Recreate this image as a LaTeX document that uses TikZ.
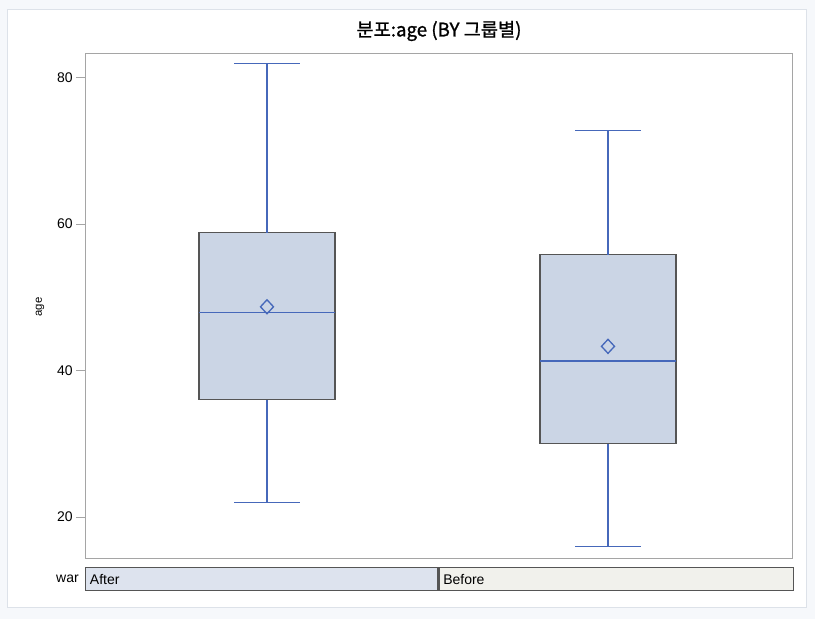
\documentclass[tikz,border=0pt]{standalone}
\usepackage{fontspec}
\setmainfont{Liberation Sans}
\newfontfamily\krtitle{Noto Sans CJK KR}[FakeBold=1.2]
\definecolor{pagebg}{RGB}{246,248,251}
\definecolor{panelline}{RGB}{221,226,233}
\definecolor{framegray}{RGB}{165,165,165}
\definecolor{boxfill}{RGB}{203,213,229}
\definecolor{boxline}{RGB}{85,85,85}
\definecolor{statline}{RGB}{70,104,186}
\definecolor{afterfill}{RGB}{221,227,238}
\definecolor{beforefill}{RGB}{241,241,236}

\begin{document}
\begin{tikzpicture}[x=0.75pt, y=-0.75pt,
  every node/.style = {font=\fontsize{10.5}{12}\selectfont, inner sep=0pt},
  plotframe/.style = {draw=framegray, line width=0.75pt},
  boxbody/.style = {draw=boxline, fill=boxfill, line width=1pt},
  stat/.style = {draw=statline, line width=1pt},
  tickmark/.style = {draw=framegray, line width=0.75pt},
  cell/.style = {draw=boxline, line width=1pt, anchor=north west,
    minimum height=17.25pt, minimum width=264pt}]
  % page and panel
  \fill[pagebg] (0,0) rectangle (815,619);
  \useasboundingbox (0,0) rectangle (815,619);
  \draw[panelline, fill=white, line width=0.75pt] (7,9) rectangle (806,607);
  \node (title) at (439,31) {\krtitle\fontsize{14}{16}\selectfont 분포:age (BY 그룹별)};
  % plot area
  \draw[plotframe] (85,53) coordinate (plotnw) rectangle (792,558) coordinate (plotse);
  \foreach \v in {20,40,60,80} {
    \draw[tickmark] (76,{663.5-7.325*\v}) -- (85,{663.5-7.325*\v});
    \node[anchor=east] (tick\v) at (73,{663.5-7.325*\v}) {\v};
  }
  \node[rotate=90, font=\fontsize{8.5}{9}\selectfont] (ylabel) at (40,307) {age};
  % boxes
  \foreach \cx/\lo/\qa/\md/\mn/\qc/\hi/\nm in
      {267/22/36/47.9/48.7/58.8/81.9/after, 608/16/30/41.3/43.3/55.8/72.8/before} {
    \coordinate (\nm-lo) at (\cx,{663.5-7.325*\lo});
    \coordinate (\nm-hi) at (\cx,{663.5-7.325*\hi});
    \draw[boxbody] (\cx-68,{663.5-7.325*\qa}) coordinate (\nm-q1)
      rectangle (\cx+68,{663.5-7.325*\qc}) coordinate (\nm-q3);
    \draw[stat] (\nm-lo) -- (\cx,{663.5-7.325*\qa});
    \draw[stat] (\nm-hi) -- (\cx,{663.5-7.325*\qc});
    \draw[stat] ([xshift=-24.75pt]\nm-lo) -- ([xshift=24.75pt]\nm-lo);
    \draw[stat] ([xshift=-24.75pt]\nm-hi) -- ([xshift=24.75pt]\nm-hi);
    \draw[stat] (\cx-68,{663.5-7.325*\md}) -- (\cx+68,{663.5-7.325*\md});
    \draw[stat] (\cx-6.5,{663.5-7.325*\mn}) -- (\cx,{656.5-7.325*\mn})
      -- (\cx+6.5,{663.5-7.325*\mn}) -- (\cx,{670.5-7.325*\mn}) -- cycle;
  }
  % class bar
  \node[cell, fill=afterfill] (after) at (85,567) {};
  \node[cell, fill=beforefill, minimum width=266pt] (before) at (after.north east) {};
  \node[anchor=west] (aftertext) at ([xshift=3.5pt]after.west) {After};
  \node[anchor=west] (beforetext) at ([xshift=3.5pt]before.west) {Before};
  \node[anchor=east] (war) at (79,579) {war};
\end{tikzpicture}
\end{document}
